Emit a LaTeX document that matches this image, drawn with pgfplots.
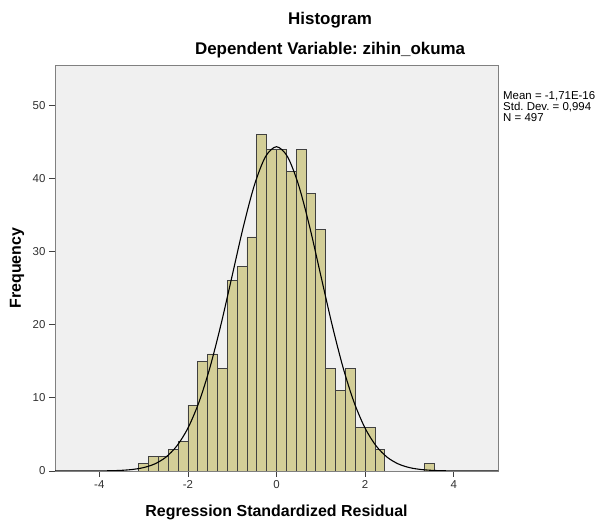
\documentclass[border=0pt]{standalone}
\usepackage{fontspec}
\setmainfont{Liberation Sans}
\usepackage{pgfplots}
\pgfplotsset{compat=1.18}
\definecolor{plotbg}{HTML}{F0F0F0}
\definecolor{barfill}{HTML}{D3CE97}
\definecolor{baredge}{HTML}{404040}
\definecolor{framegray}{HTML}{808080}
\definecolor{ticktext}{HTML}{303030}
\frenchspacing

\begin{document}
\begin{tikzpicture}
\useasboundingbox (-55bp,-52bp) rectangle (542bp,471bp);
\begin{axis}[
    at={(0,0)}, anchor=south west,
    scale only axis,
    width=443bp, height=406bp,
    xmin=-5, xmax=5,
    ymin=0, ymax=55.5,
    axis background/.style={fill=plotbg},
    axis line style={draw=framegray, line width=0.9bp},
    xtick={-4,-2,0,2,4},
    xticklabels={-4,-2,0,2,4},
    ytick={0,10,...,50},
    tick align=outside,
    tick pos=left,
    major tick length=6bp,
    tick style={draw=black!75, line width=0.8bp},
    tick label style={font=\fontsize{11.5}{12}\selectfont, text=ticktext},
    /pgf/number format/assume math mode=true,
    title={Histogram\\[10bp]Dependent Variable: zihin\_okuma},
    title style={at={(axis description cs:0.621,1.058)}, anchor=center,
        align=center, font=\fontsize{17}{20}\selectfont\bfseries},
    xlabel={Regression Standardized Residual},
    xlabel style={at={(axis description cs:0.5,-0.101)}, anchor=center,
        font=\fontsize{16}{18}\selectfont\bfseries},
    ylabel={Frequency},
    ylabel style={at={(axis description cs:-0.0858,0.5)}, anchor=center,
        font=\fontsize{16}{18}\selectfont\bfseries},
]

% histogram, bin width 2/9
\addplot[ybar interval, fill=barfill, draw=baredge, line width=0.8bp] coordinates {
    (-3.1111,1) (-2.8889,2) (-2.6667,2) (-2.4444,3) (-2.2222,4)
    (-2.0000,9) (-1.7778,15) (-1.5556,16) (-1.3333,14) (-1.1111,26)
    (-0.8889,28) (-0.6667,32) (-0.4444,46) (-0.2222,44) (0.0000,44)
    (0.2222,41) (0.4444,44) (0.6667,38) (0.8889,33) (1.1111,14)
    (1.3333,11) (1.5556,14) (1.7778,6) (2.0000,6) (2.2222,3)
    (2.4444,3)
};
\addplot[ybar interval, fill=barfill, draw=baredge, line width=0.8bp] coordinates {
    (3.3333,1) (3.5556,1)
};

% normal curve
\addplot[black, line width=1.1bp, smooth] coordinates {
    (-5.00,0.0001) (-4.75,0.0005) (-4.50,0.0016) (-4.25,0.0047)
    (-4.00,0.0135) (-3.75,0.0360) (-3.50,0.0900) (-3.25,0.2115)
    (-3.00,0.4663) (-2.75,0.9656) (-2.50,1.876) (-2.25,3.421)
    (-2.00,5.856) (-1.75,9.41) (-1.50,14.20) (-1.25,20.11)
    (-1.00,26.72) (-0.75,33.35) (-0.50,39.06) (-0.25,42.95)
    (0.00,44.33)
    (0.25,42.95) (0.50,39.06) (0.75,33.35) (1.00,26.72)
    (1.25,20.11) (1.50,14.20) (1.75,9.41) (2.00,5.856)
    (2.25,3.421) (2.50,1.876) (2.75,0.9656) (3.00,0.4663)
    (3.25,0.2115) (3.50,0.0900) (3.75,0.0360) (4.00,0.0135)
    (4.25,0.0047) (4.50,0.0016) (4.75,0.0005) (5.00,0.0001)
};
\end{axis}

\node[anchor=north west, align=left, inner sep=0pt,
    font=\fontsize{11.5}{11}\selectfont] at (448bp,380bp)
    {Mean = -1,71E-16\\Std. Dev. = 0,994\\N = 497};
\end{tikzpicture}
\end{document}
